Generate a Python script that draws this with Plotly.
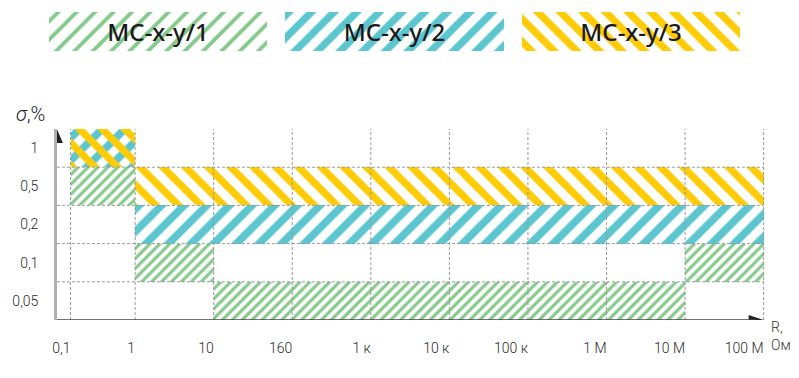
import plotly.graph_objects as go

# ---- data ----
r_labels = ['0,1', '1', '10', '160', '1 к', '10 к', '100 к', '1 М', '10 М', '100 М']
sigma_labels = ['0,05', '0,1', '0,2', '0,5', '1']

series_names = ['МС-x-y/1', 'МС-x-y/2', 'МС-x-y/3']

mc1_rows = ['0,5', '0,1', '0,05', '0,1']
mc1_from = ['0,1', '1', '10', '10 М']
mc1_to = ['1', '10', '10 М', '100 М']

mc2_rows = ['1', '0,2']
mc2_from = ['0,1', '1']
mc2_to = ['1', '100 М']

mc3_rows = ['1', '0,5']
mc3_from = ['0,1', '1']
mc3_to = ['1', '100 М']

# ---- layout helpers ----
first_gap = 0.822
tick_pos = [0.0] + [first_gap + k for k in range(len(r_labels) - 1)]
pos = dict(zip(r_labels, tick_pos))
row = {lab: i for i, lab in enumerate(sigma_labels)}

GREEN = '#85c98b'
CYAN = '#5bc6d0'
YELLOW = '#ffcb05'
CLEAR = 'rgba(0,0,0,0)'

x_range = [-0.1734, 8.89]
y_range = [-0.5, 4.5]

# page body has an 8px margin; compensate so the figure lands where the reference is
OFF = 8
L, T = 30 - OFF, 12 - OFF
R, B = 30 + OFF, 58 + OFF
PW = 799 - L - R   # 739
PH = 378 - T - B   # 308


def px_x(px):
    return (px - OFF - L) / PW


def px_y(py):
    return (378 - B - (py - OFF)) / PH


def bar_trace(rows, frm, to, color, shape, size, solidity, name):
    return go.Bar(
        orientation='h',
        y=[row[r] for r in rows],
        base=[pos[a] for a in frm],
        x=[pos[b] - pos[a] for a, b in zip(frm, to)],
        width=1.0,
        marker=dict(color=color, line=dict(width=0),
                    pattern=dict(shape=shape, fgcolor=color, bgcolor=CLEAR,
                                 size=size, solidity=solidity, fillmode='replace')),
        name=name, showlegend=False, hoverinfo='skip',
        xaxis='x', yaxis='y',
    )


fig = go.Figure()
fig.add_trace(bar_trace(mc1_rows, mc1_from, mc1_to, GREEN, '/', 7, 0.45, series_names[0]))
fig.add_trace(bar_trace(mc2_rows, mc2_from, mc2_to, CYAN, '/', 16, 0.48, series_names[1]))
fig.add_trace(bar_trace(mc3_rows, mc3_from, mc3_to, YELLOW, '\\', 16, 0.45, series_names[2]))

# ---- legend boxes (separate subplot) ----
leg_colors = [GREEN, CYAN, YELLOW]
leg_shapes = ['/', '/', '\\']
leg_sizes = [13, 16, 16]
leg_solid = [0.3, 0.45, 0.45]
for i, name in enumerate(series_names):
    fig.add_trace(go.Bar(
        x=[i], y=[1], width=0.924,
        marker=dict(color=leg_colors[i], line=dict(width=0),
                    pattern=dict(shape=leg_shapes[i], fgcolor=leg_colors[i], bgcolor=CLEAR,
                                 size=leg_sizes[i], solidity=leg_solid[i], fillmode='replace')),
        text=[name], textposition='inside', insidetextanchor='middle',
        textfont=dict(family='Noto Sans', size=24, color='#1a1a1a', weight=500),
        constraintext='none', cliponaxis=False,
        showlegend=False, hoverinfo='skip', xaxis='x2', yaxis='y2',
    ))

# ---- grid lines (dashed, drawn above bars) ----
shapes = []
GRID = '#9a9a9a'
for p in tick_pos:
    shapes.append(dict(type='line', xref='x', yref='y', x0=p, x1=p, y0=y_range[0], y1=y_range[1],
                       line=dict(color=GRID, width=1, dash='3px,2px'), layer='above'))
for k in range(1, len(sigma_labels)):
    yv = k - 0.5
    shapes.append(dict(type='line', xref='x', yref='y', x0=x_range[0], x1=tick_pos[-1], y0=yv, y1=yv,
                       line=dict(color=GRID, width=1, dash='3px,2px'), layer='above'))

# arrowheads
shapes.append(dict(type='path', xref='x', yref='y', xsizemode='pixel', ysizemode='pixel',
                   xanchor=x_range[0], yanchor=y_range[1],
                   path='M -6,-14 L 6,-14 L 0,0 Z', fillcolor='#222', line=dict(width=0), layer='above'))
shapes.append(dict(type='path', xref='x', yref='y', xsizemode='pixel', ysizemode='pixel',
                   xanchor=tick_pos[-1], yanchor=y_range[0],
                   path='M -15,-5 L -15,5 L 0,0 Z', fillcolor='#222', line=dict(width=0), layer='above'))
# x axis line
shapes.append(dict(type='line', xref='x', yref='y', x0=x_range[0], x1=tick_pos[-1] - 0.1,
                   y0=y_range[0], y1=y_range[0], line=dict(color='#444', width=1.5), layer='above'))

TICKFONT = dict(family='Roboto', size=14, color='#2a2a2a', weight=300)

fig.update_layout(
    width=799, height=378,
    margin=dict(l=L, r=R, t=T, b=B),
    paper_bgcolor='white', plot_bgcolor='white',
    barmode='overlay', bargap=0,
    showlegend=False,
    shapes=shapes,
    xaxis=dict(domain=[px_x(54), 1.0], range=x_range, tickmode='array', tickvals=tick_pos,
               ticktext=r_labels, showgrid=False, zeroline=False, showline=False,
               ticks='', ticklabelposition='outside left', ticklabelstandoff=18,
               tickfont=TICKFONT, anchor='y', fixedrange=True),
    yaxis=dict(domain=[0, px_y(129)], range=y_range, tickmode='array',
               tickvals=list(range(len(sigma_labels))), ticktext=sigma_labels,
               showgrid=False, zeroline=False, showline=True, linecolor='#b0b0b0', linewidth=2.5,
               ticks='', ticklabelstandoff=13, tickfont=TICKFONT, anchor='x', fixedrange=True),
    xaxis2=dict(domain=[px_x(37), px_x(749)], range=[-0.5, 2.5], visible=False, anchor='y2'),
    yaxis2=dict(domain=[px_y(51), px_y(12)], range=[0, 1], visible=False, anchor='x2'),
    annotations=[
        dict(text='<i>σ</i>,%', xref='paper', yref='paper', x=px_x(27), y=px_y(114),
             xanchor='center', yanchor='middle', showarrow=False,
             font=dict(family='Roboto', size=20, color='#222', weight=300)),
        dict(text='R,<br>Ом', xref='paper', yref='paper', x=px_x(769), y=px_y(336),
             xanchor='left', yanchor='middle', align='left', showarrow=False,
             font=dict(family='Roboto', size=14, color='#333', weight=300)),
    ],
)

fig.write_html('out.html')
